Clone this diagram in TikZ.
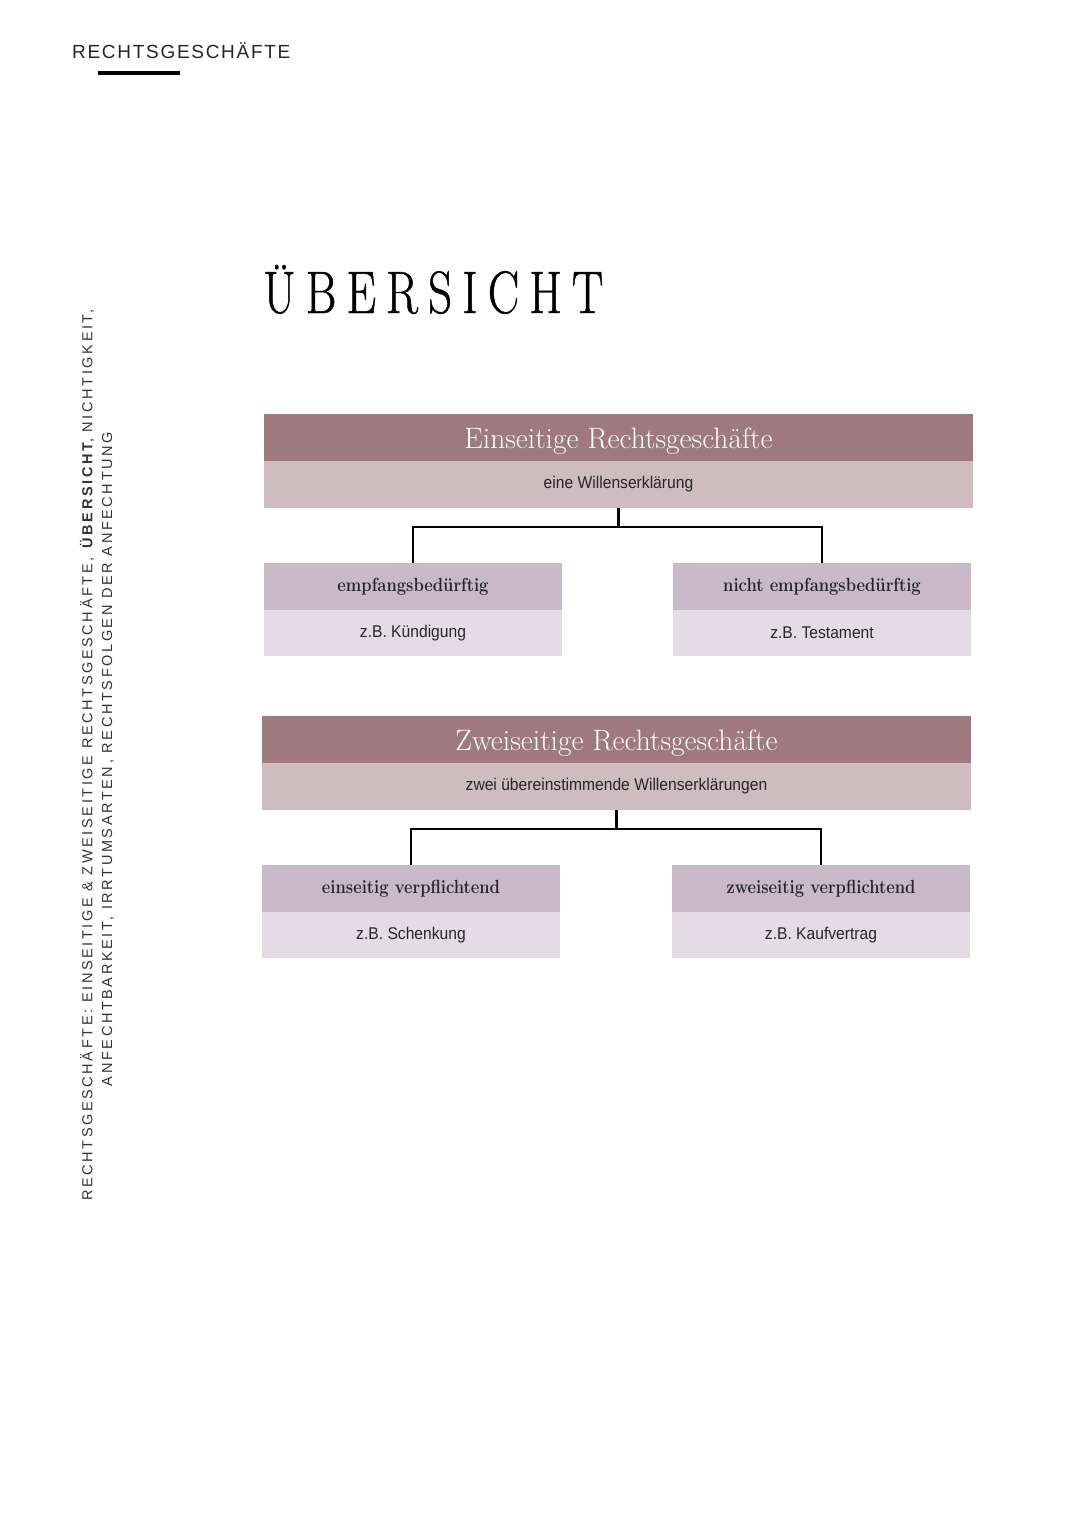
\documentclass[tikz,border=0pt]{standalone}
\usepackage{fontspec}
\setmainfont{Latin Modern Roman}
\newfontfamily\headfont{Liberation Sans}[LetterSpace=9]
\newfontfamily\sidefont{Liberation Sans}[LetterSpace=18]
\newfontfamily\titlefont{Latin Modern Roman}[LetterSpace=17, FakeStretch=0.78, FakeBold=0.8]
\newfontfamily\boxhead{Latin Modern Roman}
\newfontfamily\subheadfont{Latin Modern Roman}[FakeStretch=0.87]
\newfontfamily\boxtext{Liberation Sans}[FakeStretch=0.92]
\definecolor{darkmauve}{RGB}{158,122,128}
\definecolor{lightpink}{RGB}{206,188,193}
\definecolor{midlilac}{RGB}{200,184,200}
\definecolor{palelilac}{RGB}{228,220,228}
\tikzset{
  bar/.style={draw=none, inner sep=0pt, outer sep=0pt, anchor=north west},
  mainhead/.style={bar, fill=darkmauve, minimum width=709pt, minimum height=47pt, text height=24pt, text depth=2pt, text=white, font=\boxhead\fontsize{29.5}{32}\selectfont},
  mainsub/.style={bar, fill=lightpink, minimum width=709pt, minimum height=47pt, text=black!85, font=\boxtext\fontsize{17}{20}\selectfont},
  subhead/.style={bar, fill=midlilac, minimum width=298pt, minimum height=47pt, text=black!85, font=\subheadfont\bfseries\fontsize{19}{22}\selectfont},
  subtext/.style={bar, fill=palelilac, minimum width=298pt, minimum height=46pt, text=black!85, font=\boxtext\fontsize{17}{20}\selectfont},
  link/.style={draw=black, line width=2.5pt},
}
\begin{document}
\begin{tikzpicture}[x=1pt,y=-1pt]
\fill[white] (0,0) rectangle (1080,1527);
\useasboundingbox (0,0) rectangle (1080,1527);

% header
\node[anchor=base west, inner sep=0pt, font=\headfont\fontsize{19}{22}\selectfont, text=black!85] (hdr) at (72,58) {RECHTSGESCHÄFTE};
\draw[line width=4pt] (98,73) -- (180,73);

% side text
\node[rotate=90, inner sep=0pt, font=\sidefont\fontsize{14.5}{17}\selectfont, text=black!80] (side1) at (87,755) {RECHTSGESCHÄFTE: EINSEITIGE \& ZWEISEITIGE RECHTSGESCHÄFTE, \textbf{ÜBERSICHT}, NICHTIGKEIT,};
\node[rotate=90, inner sep=0pt, font=\sidefont\fontsize{14.5}{17}\selectfont, text=black!80] (side2) at (108,759) {ANFECHTBARKEIT, IRRTUMSARTEN, RECHTSFOLGEN DER ANFECHTUNG};

% title
\node[anchor=base west, inner sep=0pt, font=\titlefont\fontsize{60}{64}\selectfont] (title) at (263,313) {ÜBERSICHT};

% group 1
\node[mainhead] (e1) at (264,414) {Einseitige Rechtsgeschäfte};
\node[mainsub] (e1s) at (264,461) {eine Willenserklärung};
\node[subhead] (a1) at (264,563) {empfangsbedürftig};
\node[subtext] (a1s) at (264,610) {z.B. Kündigung};
\node[subhead] (b1) at (673,563) {nicht empfangsbedürftig};
\node[subtext] (b1s) at (673,610) {z.B. Testament};
\coordinate (j1) at (e1s.south |- 0,527);
\draw[link] (e1s.south) -- (j1);
\draw[link] (a1.north) -- (a1.north |- j1) -- (b1.north |- j1) -- (b1.north);

% group 2
\node[mainhead] (e2) at (262,716) {Zweiseitige Rechtsgeschäfte};
\node[mainsub] (e2s) at (262,763) {zwei übereinstimmende Willenserklärungen};
\node[subhead] (a2) at (262,865) {einseitig verpflichtend};
\node[subtext] (a2s) at (262,912) {z.B. Schenkung};
\node[subhead] (b2) at (672,865) {zweiseitig verpflichtend};
\node[subtext] (b2s) at (672,912) {z.B. Kaufvertrag};
\coordinate (j2) at (e2s.south |- 0,829);
\draw[link] (e2s.south) -- (j2);
\draw[link] (a2.north) -- (a2.north |- j2) -- (b2.north |- j2) -- (b2.north);
\end{tikzpicture}
\end{document}
